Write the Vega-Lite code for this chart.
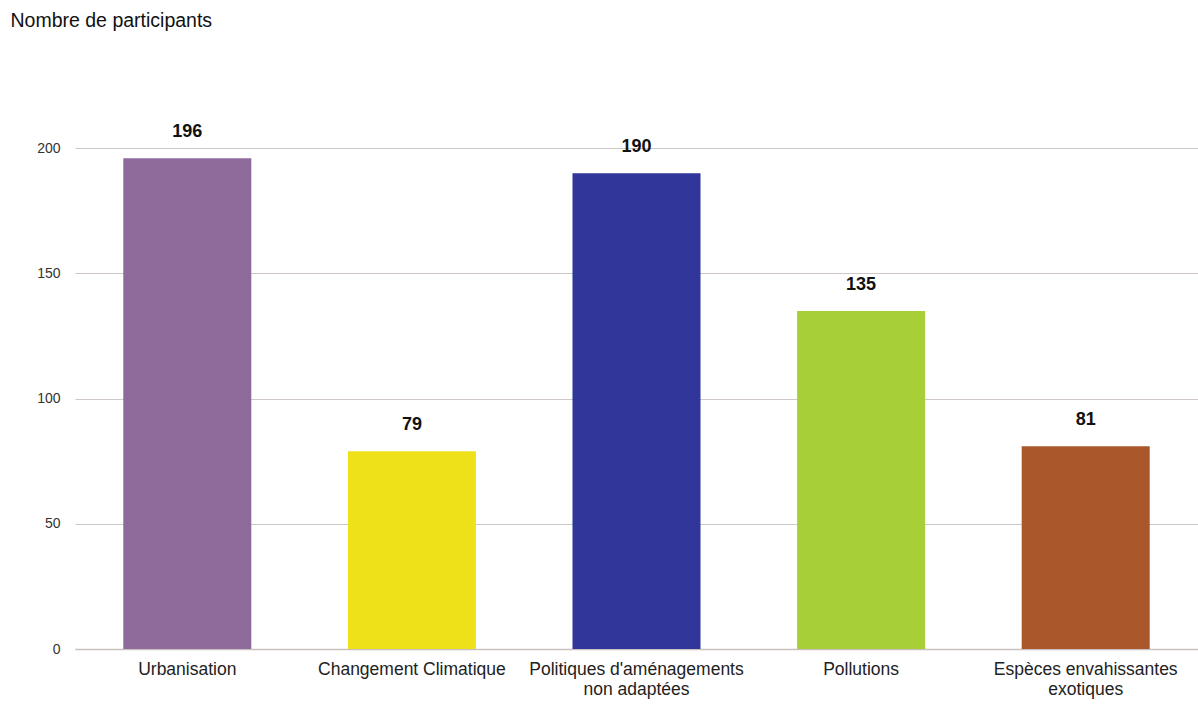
{
  "$schema": "https://vega.github.io/schema/vega-lite/v6.json",
  "autosize": "none",
  "width": 1123,
  "height": 626,
  "padding": {"left": 75, "top": 23, "right": 0, "bottom": 59},
  "background": "white",
  "config": {
    "view": {"stroke": null},
    "font": "Liberation Sans"
  },
  "data": {
    "values": [
      {"menace": "Urbanisation", "participants": 196},
      {"menace": "Changement Climatique", "participants": 79},
      {"menace": "Politiques d'aménagements non adaptées", "participants": 190},
      {"menace": "Pollutions", "participants": 135},
      {"menace": "Espèces envahissantes exotiques", "participants": 81}
    ]
  },
  "encoding": {
    "x": {
      "field": "menace",
      "type": "nominal",
      "sort": null,
      "scale": {"paddingInner": 0.43, "paddingOuter": 0.215},
      "axis": {
        "title": null,
        "labelAngle": 0,
        "labelFont": "Liberation Sans",
        "labelFontSize": 17.5,
        "labelColor": "#222222",
        "labelPadding": 11,
        "labelLineHeight": 20,
        "labelLimit": 0,
        "labelExpr": "datum.label == \"Politiques d'aménagements non adaptées\" ? [\"Politiques d'aménagements\", 'non adaptées'] : datum.label == 'Espèces envahissantes exotiques' ? ['Espèces envahissantes', 'exotiques'] : datum.label",
        "ticks": false,
        "domain": true,
        "domainColor": "#c9bfbf",
        "domainWidth": 1.5,
        "grid": false
      }
    },
    "y": {
      "field": "participants",
      "type": "quantitative",
      "scale": {"domain": [0, 250], "nice": false},
      "axis": {
        "values": [0, 50, 100, 150, 200],
        "title": "Nombre de participants",
        "titleAngle": 0,
        "titleAlign": "left",
        "titleBaseline": "middle",
        "titleX": -65,
        "titleY": -3,
        "titleFont": "Liberation Sans",
        "titleFontSize": 19.5,
        "titleFontWeight": "normal",
        "titleColor": "#111111",
        "labelFont": "Liberation Sans",
        "labelFontSize": 14,
        "labelColor": "#333333",
        "labelPadding": 15,
        "ticks": false,
        "domain": false,
        "grid": true,
        "gridColor": "#cfc6c6",
        "gridWidth": 1
      }
    }
  },
  "layer": [
    {
      "mark": {"type": "bar"},
      "encoding": {
        "color": {
          "field": "menace",
          "type": "nominal",
          "sort": null,
          "scale": {
            "domain": ["Urbanisation", "Changement Climatique", "Politiques d'aménagements non adaptées", "Pollutions", "Espèces envahissantes exotiques"],
            "range": ["#8e6b9b", "#eee11a", "#30369a", "#a7cf38", "#a9572b"]
          },
          "legend": null
        }
      }
    },
    {
      "mark": {
        "type": "text",
        "baseline": "bottom",
        "dy": -17,
        "font": "Liberation Sans",
        "fontSize": 18,
        "fontWeight": "bold",
        "color": "#111111"
      },
      "encoding": {
        "text": {"field": "participants", "type": "quantitative"}
      }
    }
  ]
}
